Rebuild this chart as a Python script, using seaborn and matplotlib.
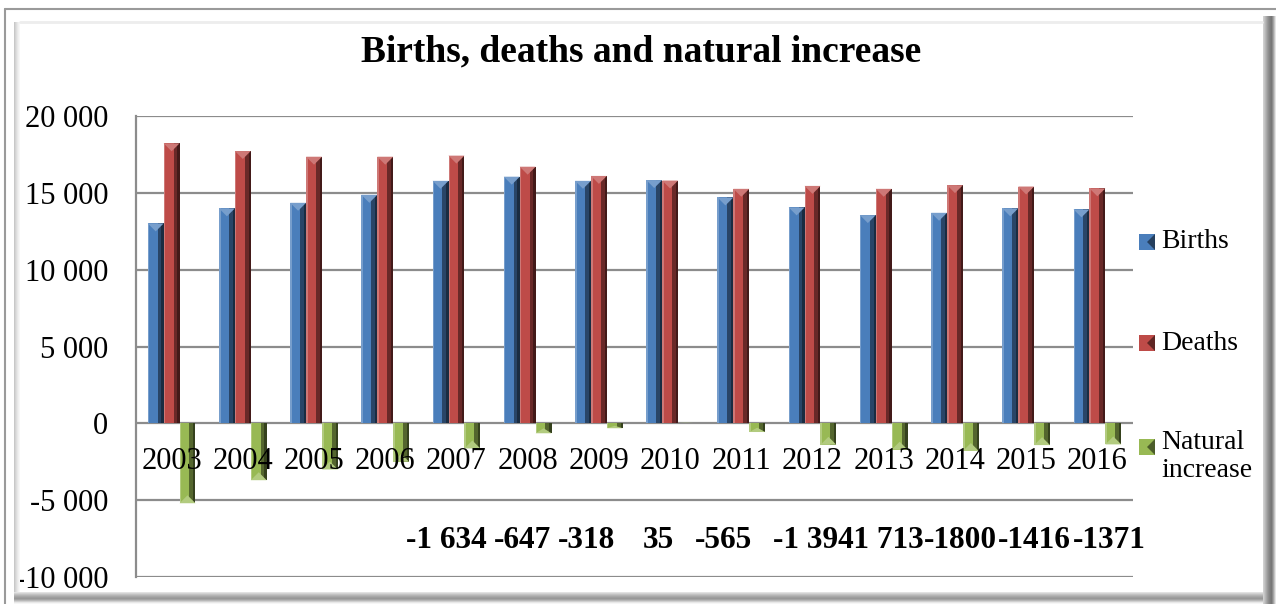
import numpy as np
import pandas as pd
import seaborn as sns
import matplotlib
matplotlib.use("Agg")
import matplotlib.pyplot as plt
import matplotlib.colors as mcolors
from matplotlib.patches import Rectangle, Polygon

# ---- data -------------------------------------------------------------
years = [str(y) for y in range(2003, 2017)]
births = [13010, 13990, 14350, 14870, 15780, 16050, 15780, 15830, 14700, 14050, 13550, 13700, 13990, 13920]
deaths = [18220, 17720, 17350, 17350, 17420, 16700, 16100, 15800, 15260, 15450, 15260, 15500, 15410, 15290]
natural_increase = [-5200, -3700, -3000, -2500, -1634, -647, -318, 35, -565, -1394, -1713, -1800, -1416, -1371]
series_names = ["Births", "Deaths", "Natural increase"]
legend_labels = ["Births", "Deaths", "Natural\nincrease"]
# value labels shown in the band below the chart (2007 onwards)
label_years = years[4:]
label_texts = ["-1 634", "-647", "-318", "35", "-565", "-1 394", "-1 713", "-1800", "-1416", "-1371"]
y_ticks = [-10000, -5000, 0, 5000, 10000, 15000, 20000]
y_tick_labels = ["-10 000", "-5 000", "0", "5 000", "10 000", "15 000", "20 000"]
colors = ["#4A7EBB", "#BE4B48", "#98B954"]

df = pd.DataFrame({"year": years, "Births": births, "Deaths": deaths,
                   "Natural increase": natural_increase})
long_df = df.melt(id_vars="year", value_vars=series_names,
                  var_name="series", value_name="value")

# ---- figure -----------------------------------------------------------
sns.set_theme(style="white")
serif = ["Liberation Serif", "DejaVu Serif"]
plt.rcParams["font.family"] = serif

W, H = 1276, 604
fig = plt.figure(figsize=(W / 100, H / 100), dpi=100)
fig.patch.set_facecolor("white")


def fx(px):
    return px / W


def fy(py):
    return 1 - py / H


ax = fig.add_axes([fx(136), fy(577), fx(1133) - fx(136), fy(116) - fy(577)])
sns.barplot(data=long_df, x="year", y="value", hue="series", hue_order=series_names,
            palette=colors, saturation=1, width=0.67, gap=0, ax=ax,
            legend=False, linewidth=0, errorbar=None)

ax.set_ylim(-10000, 20000)
ax.set_xlim(-0.5, len(years) - 0.5)
ax.set_yticks(y_ticks)
ax.set_yticklabels(y_tick_labels)
ax.set_xlabel("")
ax.set_ylabel("")
ax.grid(False)
for v in y_ticks:
    ax.axhline(v, color="#8C8C8C", lw=1.6, zorder=0.5)

for side in ["top", "right", "bottom"]:
    ax.spines[side].set_visible(False)
ax.spines["left"].set_color("#8C8C8C")
ax.spines["left"].set_linewidth(1.6)
ax.spines["bottom"].set_position(("data", 0))
ax.tick_params(axis="x", length=0, pad=17, labelsize=22, colors="black")
ax.tick_params(axis="y", length=0, pad=20, labelsize=22, colors="black")
ax.xaxis.set_zorder(5)

# ---- bevelled bar shading --------------------------------------------
units_per_px = 30000 / (577 - 116)
px_per_cat = (1133 - 136) / len(years)
for patch in list(ax.patches):
    x, y0 = patch.get_x(), patch.get_y()
    w, h = patch.get_width(), patch.get_height()
    lo, hi = min(y0, y0 + h), max(y0, y0 + h)
    base = np.array(mcolors.to_rgb(patch.get_facecolor()))
    dark = base * 0.55
    darker = base * 0.35
    light = np.clip(base + (1 - base) * 0.25, 0, 1)
    cap = min(0.5 * w * px_per_cat * units_per_px, (hi - lo) / 2)
    z = patch.get_zorder()
    # right shadow side
    ax.add_patch(Rectangle((x + 0.62 * w, lo), 0.38 * w, hi - lo,
                           facecolor=dark, lw=0, zorder=z + 0.1))
    ax.add_patch(Rectangle((x + 0.86 * w, lo), 0.14 * w, hi - lo,
                           facecolor=darker, lw=0, zorder=z + 0.15))
    # left highlight
    ax.add_patch(Rectangle((x, lo), 0.1 * w, hi - lo,
                           facecolor=light, lw=0, zorder=z + 0.1))
    # end facet triangle
    tip = hi if h >= 0 else lo
    sign = -1 if h >= 0 else 1
    ax.add_patch(Polygon([(x, tip), (x + w, tip), (x + w / 2, tip + sign * cap)],
                         closed=True, facecolor=light, lw=0, zorder=z + 0.2))

# ---- value labels band -----------------------------------------------
label_y = -7600
# horizontal nudges of the labels, in pixels
label_nudge_px = [-10, -5, -12, -12, -18, 1, 0, 5, 8, 12]
for i, (yr, txt) in enumerate(zip(label_years, label_texts)):
    xi = years.index(yr) + label_nudge_px[i] / px_per_cat
    ax.text(xi, label_y, txt, ha="center", va="center", fontsize=22.5,
            fontweight="bold", color="black", zorder=10 + (len(label_texts) - i),
            bbox=dict(facecolor="white", edgecolor="none", pad=0.0))

# ---- title ------------------------------------------------------------
fig.text(fx(641), fy(52), "Births, deaths and natural increase", ha="center",
         va="center", fontsize=27, fontweight="bold", color="black")

# ---- legend -----------------------------------------------------------
legend_rows = [242, 343, 447]
for lab, col, row in zip(legend_labels, colors, legend_rows):
    c = np.array(mcolors.to_rgb(col))
    fig.add_artist(Rectangle((fx(1139), fy(row + 8)), fx(16), 16 / H,
                             transform=fig.transFigure, facecolor=c, lw=0))
    fig.add_artist(Polygon([(fx(1147), fy(row)), (fx(1155), fy(row - 8)), (fx(1155), fy(row + 8))],
                           closed=True, transform=fig.transFigure, facecolor=c * 0.5, lw=0))
    if "\n" in lab:
        fig.text(fx(1161), fy(row - 17), lab, ha="left", va="top", fontsize=20,
                 color="black", linespacing=1.15)
    else:
        fig.text(fx(1161), fy(row), lab, ha="left", va="center", fontsize=20, color="black")

# ---- bevelled outer frame ----------------------------------------------
frame_col = "#9A9A9A"
fig.add_artist(plt.Line2D([fx(5), fx(5)], [fy(9), 0], transform=fig.transFigure,
                          color=frame_col, lw=1.5))
fig.add_artist(plt.Line2D([fx(5), 1], [fy(9), fy(9)], transform=fig.transFigure,
                          color=frame_col, lw=1.5))
fig.add_artist(plt.Line2D([fx(20), fx(1262)], [fy(22), fy(22)], transform=fig.transFigure,
                          color="#EDEDED", lw=2))
left_grad = ["#C8C8C8", "#D4D4D4", "#DEDEDE", "#E8E8E8", "#F0F0F0", "#F7F7F7"]
for i, c in enumerate(left_grad):
    fig.add_artist(Rectangle((fx(14 + i), fy(592)), fx(1), fy(22) - fy(592),
                             transform=fig.transFigure, facecolor=c, lw=0))
right_grad = ["#D0D0D0", "#C4C4C4", "#B6B6B6", "#A8A8A8", "#9A9A9A", "#8E8E8E",
              "#848484", "#7C7C7C", "#777777", "#8A8A8A", "#A5A5A5", "#C5C5C5", "#E5E5E5"]
for i, c in enumerate(right_grad):
    fig.add_artist(Rectangle((fx(1263 + i), 0), fx(1), fy(16),
                             transform=fig.transFigure, facecolor=c, lw=0))
bottom_grad = ["#E2E2E2", "#D2D2D2", "#C2C2C2", "#B4B4B4", "#A8A8A8", "#9E9E9E",
               "#989898", "#A4A4A4", "#B8B8B8", "#D0D0D0", "#E8E8E8", "#F6F6F6"]
for i, c in enumerate(bottom_grad):
    fig.add_artist(Rectangle((fx(14), fy(593 + i)), fx(1263) - fx(14), 1 / H,
                             transform=fig.transFigure, facecolor=c, lw=0))

fig.savefig("out.png", dpi=100, facecolor="white")
